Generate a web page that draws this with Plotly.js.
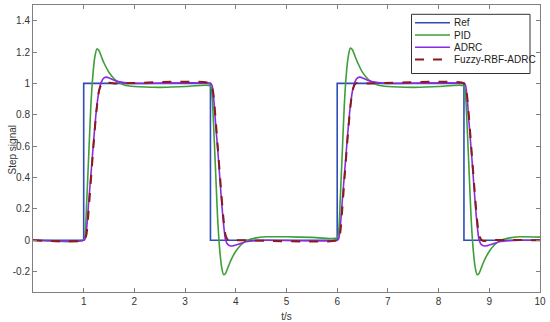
<!DOCTYPE html>
<html>
<head>
<meta charset="utf-8">
<script src="https://cdn.plot.ly/plotly-3.0.1.min.js"></script>
<style>html,body{margin:0;padding:0;background:#fff;}#chart{width:550px;height:322px;}</style>
</head>
<body>
<div id="chart"></div>
<script>
// Reference square-wave
const refT = [0, 1, 1, 3.5, 3.5, 6, 6, 8.5, 8.5, 10];
const refY = [0, 0, 1, 1, 0, 0, 1, 1, 0, 0];

// PID response
const pidT = [0, 1.0, 1.03, 1.06, 1.1, 1.14, 1.18, 1.22, 1.26, 1.3, 1.35, 1.4, 1.5, 1.6, 1.7, 1.8, 2.0, 2.5, 3.0, 3.5,
  3.53, 3.56, 3.6, 3.64, 3.68, 3.72, 3.76, 3.8, 3.85, 3.9, 4.0, 4.1, 4.2, 4.4, 4.6, 5.0, 5.5, 6.0,
  6.03, 6.06, 6.1, 6.14, 6.18, 6.22, 6.26, 6.3, 6.35, 6.4, 6.5, 6.6, 6.7, 6.8, 7.0, 7.5, 8.0, 8.5,
  8.53, 8.56, 8.6, 8.64, 8.68, 8.72, 8.76, 8.8, 8.85, 8.9, 9.0, 9.1, 9.2, 9.4, 9.6, 10.0];
const pidY = [0, 0, 0.05, 0.25, 0.55, 0.85, 1.05, 1.17, 1.22, 1.21, 1.17, 1.13, 1.07, 1.03, 1.005, 0.99, 0.98, 0.975, 0.98, 0.985,
  0.93, 0.75, 0.45, 0.15, -0.05, -0.17, -0.22, -0.21, -0.17, -0.13, -0.07, -0.03, -0.005, 0.015, 0.022, 0.022, 0.018, 0.015,
  0.06, 0.26, 0.56, 0.86, 1.06, 1.175, 1.225, 1.215, 1.175, 1.135, 1.07, 1.03, 1.005, 0.99, 0.98, 0.975, 0.98, 0.985,
  0.93, 0.75, 0.45, 0.15, -0.05, -0.17, -0.22, -0.21, -0.17, -0.13, -0.07, -0.03, -0.005, 0.015, 0.022, 0.02];

// ADRC response
const adrcT = [0, 1.0, 1.03, 1.06, 1.1, 1.15, 1.2, 1.25, 1.3, 1.35, 1.4, 1.45, 1.5, 1.6, 1.7, 1.8, 2.0, 3.5,
  3.53, 3.56, 3.6, 3.65, 3.7, 3.75, 3.8, 3.85, 3.9, 3.95, 4.0, 4.1, 4.2, 4.4, 4.6, 6.0,
  6.03, 6.06, 6.1, 6.15, 6.2, 6.25, 6.3, 6.35, 6.4, 6.45, 6.5, 6.6, 6.7, 6.8, 7.0, 8.5,
  8.53, 8.56, 8.6, 8.65, 8.7, 8.75, 8.8, 8.85, 8.9, 8.95, 9.0, 9.1, 9.2, 9.4, 9.6, 10.0];
const adrcY = [0, 0, 0.01, 0.08, 0.25, 0.45, 0.65, 0.83, 0.95, 1.01, 1.035, 1.04, 1.035, 1.02, 1.01, 1.005, 1.0, 1.0,
  0.99, 0.92, 0.75, 0.55, 0.33, 0.13, 0.0, -0.03, -0.037, -0.035, -0.03, -0.02, -0.01, -0.003, 0, 0,
  0.01, 0.08, 0.25, 0.45, 0.65, 0.83, 0.95, 1.01, 1.035, 1.04, 1.035, 1.02, 1.01, 1.005, 1.0, 1.0,
  0.99, 0.92, 0.75, 0.55, 0.33, 0.13, 0.0, -0.03, -0.037, -0.035, -0.03, -0.02, -0.01, -0.003, 0, 0];

// Fuzzy-RBF-ADRC response
const frT = [0, 1.0, 1.05, 1.1, 1.15, 1.2, 1.25, 1.3, 1.35, 1.4, 1.5, 1.6, 3.5,
  3.55, 3.6, 3.65, 3.7, 3.75, 3.8, 3.85, 3.9, 4.0, 6.0,
  6.05, 6.1, 6.15, 6.2, 6.25, 6.3, 6.35, 6.4, 6.5, 6.6, 8.5,
  8.55, 8.6, 8.65, 8.7, 8.75, 8.8, 8.85, 8.9, 9.0, 10.0];
const frY = [0, 0, 0.03, 0.2, 0.42, 0.63, 0.82, 0.95, 0.995, 1.005, 1.005, 1.0, 1.0,
  0.95, 0.78, 0.57, 0.36, 0.16, 0.03, 0.0, -0.005, 0, 0,
  0.03, 0.2, 0.42, 0.63, 0.82, 0.95, 0.995, 1.005, 1.005, 1.0, 1.0,
  0.95, 0.78, 0.57, 0.36, 0.16, 0.03, 0.0, -0.005, 0, 0];

const seriesNames = ['Ref', 'PID', 'ADRC', 'Fuzzy-RBF-ADRC'];
const xTicks = [1, 2, 3, 4, 5, 6, 7, 8, 9, 10];
const yTicks = [-0.2, 0, 0.2, 0.4, 0.6, 0.8, 1, 1.2, 1.4];
const yTickText = ['-0.2', '0', '0.2', '0.4', '0.6', '0.8', '1', '1.2', '1.4'];

const FONT = 'Liberation Sans, Arial, sans-serif';
const styles = [
  {color: '#2D4DB8', width: 1.6},
  {color: '#3E9E38', width: 1.6, shape: 'spline', smoothing: 0.6},
  {color: '#8A2BE2', width: 1.6, shape: 'spline', smoothing: 0.6},
  {color: '#8B1A1A', width: 2, dash: 'dash', shape: 'spline', smoothing: 0.6}
];
const xs = [refT, pidT, adrcT, frT];
const ys = [refY, pidY, adrcY, frY];

const traces = seriesNames.map((n, i) => ({
  x: xs[i], y: ys[i], name: n, mode: 'lines', line: styles[i], showlegend: false
}));

// Plot area in pixels: x 33..540, y 5..292
const L = 33, R = 540, T = 5, B = 292;
const px = v => (v - L) / (R - L);
const py = v => (B - v) / (B - T);

const legRows = [22.7, 35, 47.3, 59.6];
const shapes = [{
  type: 'rect', xref: 'paper', yref: 'paper',
  x0: px(411.5), x1: px(530), y0: py(73.5), y1: py(14.3),
  line: {color: '#333', width: 1}, fillcolor: '#fff', layer: 'above'
}];
const annotations = [];
seriesNames.forEach((n, i) => {
  shapes.push({
    type: 'line', xref: 'paper', yref: 'paper',
    x0: px(415), x1: px(450), y0: py(legRows[i]), y1: py(legRows[i]),
    line: {color: styles[i].color, width: styles[i].width, dash: styles[i].dash || 'solid'}, layer: 'above'
  });
  annotations.push({
    xref: 'paper', yref: 'paper', x: px(451.5), y: py(legRows[i]),
    xanchor: 'left', yanchor: 'middle', showarrow: false, text: n,
    font: {family: FONT, size: 10, color: '#222'}
  });
});
annotations.push({
  xref: 'paper', yref: 'paper', x: px(11.5), y: py(150), textangle: -90,
  xanchor: 'center', yanchor: 'middle', showarrow: false, text: 'Step signal',
  font: {family: FONT, size: 10, color: '#333'}
});

const axisCommon = {
  showgrid: false, zeroline: false, showline: true, linecolor: '#808080', linewidth: 1,
  mirror: 'ticks', ticks: 'inside', ticklen: 4, tickcolor: '#808080',
  tickfont: {family: FONT, size: 10, color: '#333'}
};

const layout = {
  width: 550, height: 322,
  margin: {l: L, r: 550 - R, t: T, b: 322 - B},
  paper_bgcolor: '#fff', plot_bgcolor: '#fff',
  showlegend: false,
  xaxis: Object.assign({}, axisCommon, {
    range: [0, 10], tickvals: xTicks, ticktext: xTicks.map(String),
    title: {text: 't/s', font: {family: FONT, size: 10, color: '#333'}, standoff: 8}
  }),
  yaxis: Object.assign({}, axisCommon, {
    range: [-0.33, 1.5], tickvals: yTicks, ticktext: yTickText
  }),
  shapes: shapes,
  annotations: annotations
};

Plotly.newPlot('chart', traces, layout, {displayModeBar: false, staticPlot: true});
</script>
</body>
</html>
